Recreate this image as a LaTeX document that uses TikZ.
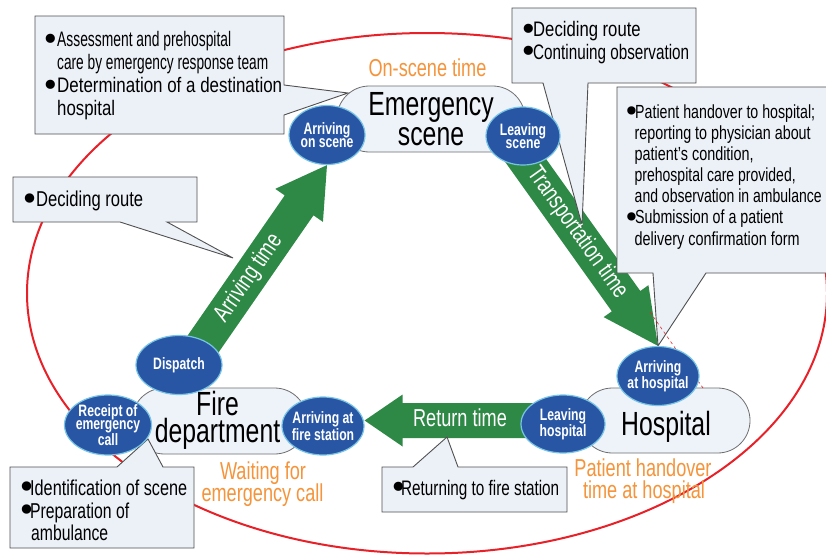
\documentclass[tikz,border=0pt]{standalone}
\usepackage{fontspec}
\usepackage{graphicx}
\setmainfont{Liberation Sans}[FakeStretch=0.74]
\newfontfamily\boxfont{Liberation Sans}
\newfontfamily\bulfont{DejaVu Sans}[Scale=1.5]
\usetikzlibrary{calc,shapes.geometric}
\definecolor{redline}{RGB}{232,32,40}
\definecolor{greenarr}{RGB}{47,137,70}
\definecolor{blueell}{RGB}{40,86,165}
\definecolor{cyanedge}{RGB}{120,196,228}
\definecolor{boxfill}{RGB}{236,241,248}
\definecolor{boxedge}{RGB}{80,80,80}
\definecolor{pillfill}{RGB}{238,242,249}
\definecolor{pilledge}{RGB}{110,110,110}
\definecolor{orangec}{RGB}{245,148,58}
\newcommand{\bu}[1]{\makebox[#1][l]{\raisebox{-3.6pt}{\bulfont •}}}
\newcommand{\wl}[2]{\resizebox{#1}{\height}{#2}}
\newcommand{\fsz}[1]{\fontsize{#1}{#1}\selectfont}
\newcommand{\bsz}[1]{\boxfont\fontsize{#1}{#1}\selectfont}
% start, tip, half shaft, half head, head length, base name
\newcommand{\fatarrow}[6]{%
  \coordinate (#6) at ($(#2)!#5!(#1)$);
  \fill[greenarr] ($(#1)!#3!90:(#2)$) -- ($(#6)!#3!90:(#2)$) -- ($(#6)!#4!90:(#2)$) -- (#2)
    -- ($(#6)!#4!-90:(#2)$) -- ($(#6)!#3!-90:(#2)$) -- ($(#1)!#3!-90:(#2)$) -- cycle;}
\pgfdeclarelayer{ringlayer}
\pgfdeclarelayer{arrowlayer}
\pgfdeclarelayer{pilllayer}
\pgfdeclarelayer{calloutlayer}
\pgfsetlayers{ringlayer,arrowlayer,pilllayer,calloutlayer,main}
\begin{document}
\begin{tikzpicture}[x=1pt,y=-1pt,
  evt/.style={ellipse, draw=cyanedge, line width=1.2pt, fill=blueell, inner sep=0pt},
  evtxt/.style={text=white, font=\bfseries\fontsize{16.5}{13}\selectfont, align=center, inner sep=0pt},
  pill/.style={rectangle, draw=pilledge, line width=0.8pt, fill=pillfill, rounded corners=32.4pt, inner sep=0pt},
  bigtxt/.style={font=\fsz{33.5}, inner sep=0pt, anchor=base},
  orangetxt/.style={text=orangec, font=\fsz{24.5}, inner sep=0pt, anchor=base},
  arrtxt/.style={text=white, font=\fsz{24.5}, inner sep=0pt},
  callout/.style={draw=boxedge, line width=0.9pt, fill=boxfill, line join=miter},
  boxtxt/.style={inner sep=0pt, anchor=base west}]
\begin{pgfonlayer}{ringlayer}
\fill[white] (0,0) rectangle (826,554);
\end{pgfonlayer}
\useasboundingbox (0,0) rectangle (826,554);

% ---- event ellipses
\node[evt, minimum width=76pt, minimum height=59pt] (aos) at (327,135) {};
\node[evtxt] (aost) at (aos) {Arriving\\on scene};
\node[evt, minimum width=74pt, minimum height=58pt] (ls) at (523,136) {};
\node[evtxt] (lst) at (ls) {Leaving\\scene};
\node[evt, minimum width=86pt, minimum height=59pt] (disp) at (179,365) {};
\node[evtxt] (dispt) at (disp) {Dispatch};
\node[evt, minimum width=87pt, minimum height=60pt] (rec) at (108,425) {};
\node[evtxt] (rect) at (rec) {Receipt of\\emergency\\call};
\node[evt, minimum width=82pt, minimum height=58pt] (afs) at (323,426) {};
\node[evtxt] (afst) at (afs) {Arriving at\\fire station};
\node[evt, minimum width=82pt, minimum height=59pt] (ah) at (658,376) {};
\node[evtxt] (aht) at (ah) {Arriving\\at hospital};
\node[evt, minimum width=84pt, minimum height=58pt] (lh) at (563,424) {};
\node[evtxt] (lht) at (lh) {Leaving\\hospital};

% ---- red cycle
\begin{pgfonlayer}{ringlayer}
\draw[redline, line width=2pt] (427,293.25) ellipse [x radius=400, y radius=260.25];
\end{pgfonlayer}

% ---- green arrows
\coordinate (a1s) at (192,360);
\coordinate (a2s) at (511,140);
\coordinate (a3s) at (540,420.5);
\coordinate (a3t) at ($(afs.east)+(0,-5.5)$);
\begin{pgfonlayer}{arrowlayer}
\fatarrow{a1s}{aos.south}{17.5pt}{29pt}{49pt}{a1b}
\fatarrow{a2s}{ah.north}{17.5pt}{27.5pt}{55pt}{a2b}
\fatarrow{a3s}{a3t}{17.5pt}{26pt}{38pt}{a3b}
\end{pgfonlayer}
\path (a1s) -- (aos.south) node[arrtxt, sloped, pos=0.42] (a1l) {Arriving time};
\path (a2s) -- (ah.north) node[arrtxt, sloped, pos=0.45] (a2l) {Transportation time};
\node[arrtxt, anchor=base] (a3l) at (460,426.7) {Return time};

% ---- places
\begin{pgfonlayer}{pilllayer}
\node[pill, minimum width=188pt, minimum height=66pt] (es) at (431,119) {};
\node[pill, minimum width=175pt, minimum height=66pt] (fd) at (219.5,421) {};
\node[pill, minimum width=170pt, minimum height=65pt] (hp) at (665,420.5) {};
\end{pgfonlayer}
\node[bigtxt] (est1) at (431,115) {Emergency};
\node[bigtxt] (est2) at (431,145) {scene};
\node[bigtxt] (fdt1) at (217.5,415) {Fire};
\node[bigtxt] (fdt2) at (217.5,442) {department};
\node[bigtxt] (hpt) at (666,435) {Hospital};

% ---- orange phase labels
\node[orangetxt] (ost) at (427.5,76) {On-scene time};
\node[orangetxt] (wt1) at (263,479) {Waiting for};
\node[orangetxt] (wt2) at (262.5,501) {emergency call};
\node[orangetxt] (ph1) at (643,476.7) {Patient handover};
\node[orangetxt] (ph2) at (644,498) {time at hospital};

% ---- callouts
\coordinate (tA) at (348,93);
\coordinate (tB) at (233,258);
\coordinate (tC) at (582,225);
\coordinate (tE) at (148,439);
\coordinate (tF) at (447,437);
\begin{pgfonlayer}{calloutlayer}
\draw[callout] (35,16) -- (284,16) -- (284,85) -- (tA) -- (284,115) -- (284,134) -- (35,134) -- cycle;
\draw[callout] (13,177) -- (197,177) -- (197,222) -- (167,222) -- (tB) -- (120,222) -- (13,222) -- cycle;
\draw[callout] (512,8) -- (696,8) -- (696,83) -- (588,83) -- (tC) -- (543,83) -- (512,83) -- cycle;
\draw[callout] (617,87) -- (840,87) -- (840,273) -- (706,273) -- (ah.north) -- (653,273) -- (617,273) -- cycle;
\draw[callout] (10,467) -- (117,467) -- (tE) -- (163,467) -- (194,467) -- (194,548) -- (10,548) -- cycle;
\draw[callout] (382,467) -- (413,467) -- (tF) -- (458,467) -- (567,467) -- (567,512) -- (382,512) -- cycle;
\draw[redline, line width=0.6pt, dash pattern=on 3pt off 3pt] (650,312) -- (703,388);
\end{pgfonlayer}

% box A
\node[boxtxt, font=\bsz{21}] (ta1) at (41.4,46.7) {\bu{15.6pt}\wl{174pt}{Assessment and prehospital}};
\node[boxtxt, font=\bsz{21}] (ta2) at (57,69.3) {\wl{211pt}{care by emergency response team}};
\node[boxtxt, font=\bsz{21}] (ta3) at (41.4,92.7) {\bu{15.6pt}\wl{225pt}{Determination of a destination}};
\node[boxtxt, font=\bsz{21}] (ta4) at (57,115) {\wl{58pt}{hospital}};
% box B
\node[boxtxt, font=\bsz{21.5}] (tb1) at (20,206.7) {\bu{16pt}\wl{107pt}{Deciding route}};
% box C
\node[boxtxt, font=\bsz{21}] (tc1) at (519,36.7) {\bu{14pt}\wl{107.5pt}{Deciding route}};
\node[boxtxt, font=\bsz{21}] (tc2) at (519,59.3) {\bu{14pt}\wl{156pt}{Continuing observation}};
% box D
\node[boxtxt, font=\bsz{19}] (td1) at (623.4,118.3) {\bu{11.6pt}\wl{180pt}{Patient handover to hospital;}};
\node[boxtxt, font=\bsz{19}] (td2) at (634.5,139.4) {\wl{176pt}{reporting to physician about}};
\node[boxtxt, font=\bsz{19}] (td3) at (634.5,160.5) {\wl{119pt}{patient’s condition,}};
\node[boxtxt, font=\bsz{19}] (td4) at (634.5,181.6) {\wl{161pt}{prehospital care provided,}};
\node[boxtxt, font=\bsz{19}] (td5) at (634.5,202.7) {\wl{187pt}{and observation in ambulance}};
\node[boxtxt, font=\bsz{19}] (td6) at (623.4,223.9) {\bu{11.6pt}\wl{148pt}{Submission of a patient}};
\node[boxtxt, font=\bsz{19}] (td7) at (634.5,245) {\wl{165pt}{delivery confirmation form}};
% box E
\node[boxtxt, font=\bsz{21.5}] (te1) at (17,495) {\bu{13pt}\wl{157pt}{Identification of scene}};
\node[boxtxt, font=\bsz{21.5}] (te2) at (17,518.3) {\bu{13pt}\wl{99pt}{Preparation of}};
\node[boxtxt, font=\bsz{21.5}] (te3) at (31,540.7) {\wl{77pt}{ambulance}};
% box F
\node[boxtxt, font=\bsz{21}] (tf1) at (389,495) {\bu{12pt}\wl{158pt}{Returning to fire station}};
\end{tikzpicture}
\end{document}
